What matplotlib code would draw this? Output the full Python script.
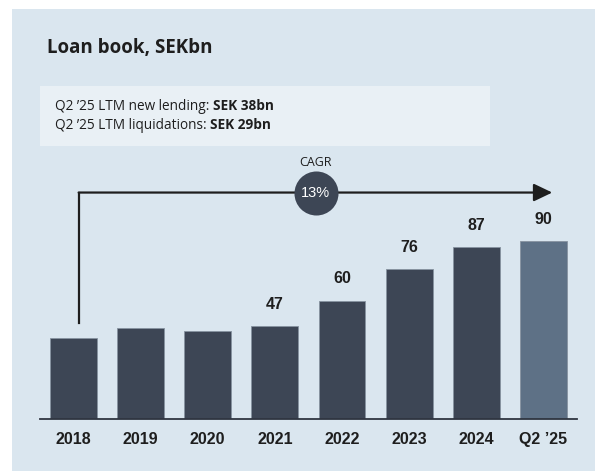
import matplotlib
matplotlib.use("Agg")
import matplotlib.pyplot as plt
from matplotlib.patches import Rectangle, ArrowStyle

# loan book, SEKbn
periods = ["2018", "2019", "2020", "2021", "2022", "2023", "2024", "Q2 \u201925"]
loan_book = [41, 46, 44.5, 47, 60, 76, 87, 90]
show_value = [False, False, False, True, True, True, True, True]
cagr_text = "13%"
facts = [("Q2 \u201925 LTM new lending: ", "SEK 38bn"),
         ("Q2 \u201925 LTM liquidations: ", "SEK 29bn")]

W, H = 595, 471
PANEL = "#dae6ef"
BOX = "#e9f0f5"
BAR = "#3d4655"
BAR_LAST = "#5e7186"
INK = "#1e1e1e"
SANS = "Open Sans"
NUM = "Liberation Sans"

fig = plt.figure(figsize=(W / 100, H / 100), dpi=100)
fig.patch.set_facecolor("white")


def fx(x):
    return x / W


def fy(y):
    return 1 - y / H


# background panel and fact box
fig.patches.append(Rectangle((fx(12), 0), 2, fy(9), transform=fig.transFigure,
                             facecolor=PANEL, edgecolor="none", zorder=-10))
fig.patches.append(Rectangle((fx(40), fy(145.7)), fx(490) - fx(40), fy(85.7) - fy(145.7),
                             transform=fig.transFigure, facecolor=BOX,
                             edgecolor="none", zorder=-9))

fig.text(fx(47), fy(53.5), "Loan book, SEKbn", family=SANS, weight="bold",
         size=13.5, color=INK, va="baseline")

renderer = fig.canvas.get_renderer()
for (plain, bold), y in zip(facts, [110.5, 129]):
    t = fig.text(fx(55), fy(y), plain, family=SANS, size=9.8, color=INK, va="baseline")
    bb = t.get_window_extent(renderer)
    fig.text(bb.x1 / fig.bbox.width, fy(y), bold, family=SANS, size=9.8,
             weight="bold", color=INK, va="baseline")

# bar chart
px_per_unit = 1.97
base_y, top_y = 418.7, 150
ax = fig.add_axes([fx(39.7), fy(base_y), fx(577.1) - fx(39.7), (base_y - top_y) / H])
ax.set_facecolor("none")
x = list(range(len(periods)))
colors = [BAR] * (len(periods) - 1) + [BAR_LAST]
ax.bar(x, loan_book, width=0.695, color=colors, edgecolor="#8793a0", linewidth=0.6,
       zorder=2)
ax.set_xlim(-0.5, len(periods) - 0.5)
ax.set_ylim(0, (base_y - top_y) / px_per_unit)
for s in ["top", "right", "left"]:
    ax.spines[s].set_visible(False)
ax.spines["bottom"].set_color("#2f3540")
ax.spines["bottom"].set_linewidth(1.3)
ax.spines["bottom"].set_zorder(3)
ax.set_xticks([])
ax.set_yticks([])

for i, p in enumerate(periods):
    ax.annotate(p, xy=(i, 0), xytext=(0, -14.8), textcoords="offset points",
                ha="center", va="center", family=NUM, weight="bold", size=11.5,
                color=INK, annotation_clip=False)

for i, (v, show) in enumerate(zip(loan_book, show_value)):
    if show:
        ax.annotate(f"{v:g}", xy=(i, v), xytext=(0, 15.8), textcoords="offset points",
                    ha="center", va="center", family=NUM, weight="bold", size=11.5,
                    color=INK)

# CAGR arrow: vertical leg, then horizontal arrow to the last bar
arrow_x0, arrow_x1 = 0.08, 7.13
arrow_y, arrow_bottom = 114.8, 48.7
ax.plot([arrow_x0, arrow_x0], [arrow_bottom, arrow_y], color=INK, lw=1.6,
        solid_capstyle="projecting", zorder=3)
ax.annotate("", xy=(arrow_x1, arrow_y), xytext=(arrow_x0, arrow_y),
            arrowprops=dict(arrowstyle=ArrowStyle("-|>", head_length=11.3, head_width=5.4),
                            mutation_scale=1, color=INK, lw=1.6,
                            shrinkA=0, shrinkB=0), zorder=3)
cx = 3.606
ax.scatter([cx], [arrow_y], s=31.7 ** 2, color=BAR, zorder=4, linewidths=0)
ax.text(cx, arrow_y, cagr_text, ha="center", va="center", family=NUM, size=10.5,
        color="white", zorder=5)
ax.annotate("CAGR", xy=(cx, arrow_y), xytext=(0, 21.6), textcoords="offset points",
            ha="center", va="center", family=SANS, size=9, color=INK)

fig.savefig("out.png", dpi=100)
